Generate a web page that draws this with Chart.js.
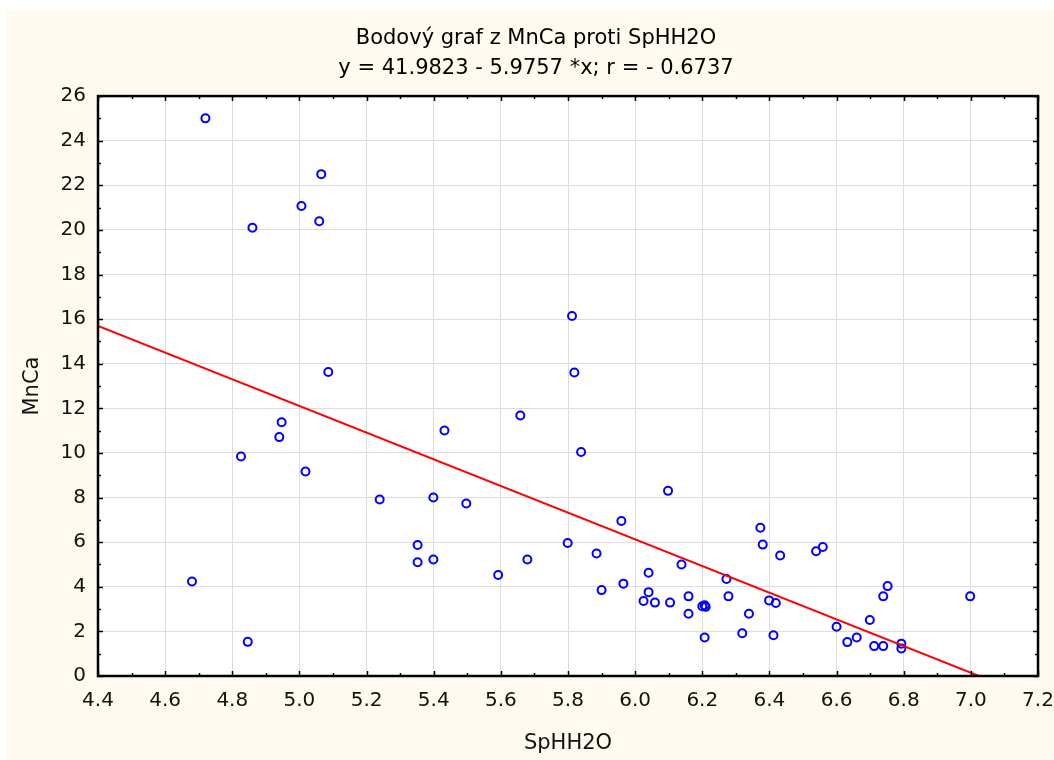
<!DOCTYPE html>
<html>
<head>
<meta charset="utf-8">
<title>Bodový graf z MnCa proti SpHH2O</title>
<script src="https://cdn.jsdelivr.net/npm/chart.js@4/dist/chart.umd.min.js"></script>
<style>
  html, body { margin: 0; padding: 0; background: #ffffff; }
  #wrap { width: 1054px; height: 760px; }
</style>
</head>
<body>
<div id="wrap"><canvas id="chart" width="1054" height="760"></canvas></div>
<script>
// SpHH2O (x) a MnCa (y)
const spHH2O = [
  4.68, 4.72, 4.826, 4.846, 4.86, 4.94, 4.947, 5.006, 5.018, 5.059, 5.065, 5.086,
  5.239, 5.352, 5.352, 5.399, 5.399, 5.432, 5.497, 5.592, 5.658, 5.679, 5.799,
  5.812, 5.819, 5.839, 5.885, 5.9, 5.959, 5.965, 6.025, 6.04, 6.04, 6.059, 6.098,
  6.104, 6.138, 6.159, 6.159, 6.2, 6.207, 6.21, 6.207, 6.272, 6.278, 6.319, 6.339,
  6.373, 6.38, 6.399, 6.412, 6.419, 6.432, 6.539, 6.559, 6.6, 6.632, 6.66, 6.699,
  6.712, 6.739, 6.739, 6.752, 6.793, 6.793, 6.998
];
const mnCa = [
  4.24, 25.0, 9.84, 1.53, 20.1, 10.71, 11.38, 21.07, 9.17, 20.39, 22.5, 13.63,
  7.91, 5.87, 5.1, 8.0, 5.22, 11.01, 7.73, 4.53, 11.68, 5.22, 5.96,
  16.14, 13.61, 10.04, 5.49, 3.85, 6.95, 4.14, 3.36, 4.63, 3.76, 3.29, 8.3,
  3.29, 5.0, 3.57, 2.79, 3.13, 3.17, 3.1, 1.73, 4.35, 3.57, 1.92, 2.79,
  6.65, 5.89, 3.39, 1.83, 3.27, 5.4, 5.59, 5.78, 2.21, 1.52, 1.73, 2.51,
  1.34, 1.34, 3.57, 4.03, 1.45, 1.23, 3.57
];

// regresní přímka y = 41.9823 - 5.9757*x (koncové body)
const fitX = [4.4, 7.2];
const fitY = [15.69, -1.05];

// popisky os
const xTicks = ["4.4", "4.6", "4.8", "5.0", "5.2", "5.4", "5.6", "5.8", "6.0", "6.2", "6.4", "6.6", "6.8", "7.0", "7.2"];
const yTicks = ["0", "2", "4", "6", "8", "10", "12", "14", "16", "18", "20", "22", "24", "26"];

const titleLines = ["Bodový graf z MnCa proti SpHH2O", "y = 41.9823 - 5.9757 *x; r = - 0.6737"];

const FONT = "'DejaVu Sans', 'Liberation Sans', Arial, sans-serif";

// pozadí: bílý okraj, krémová plocha, bílá oblast grafu
const backgroundPlugin = {
  id: "background",
  afterLayout(chart) {
    // titulek je v originále vystředěn mezi okrajem a pravou hranou
    chart.titleBlock.left = 18;
    chart.titleBlock.right = chart.width;
  },
  beforeDraw(chart) {
    const { ctx, chartArea: a } = chart;
    ctx.save();
    ctx.fillStyle = "#ffffff";
    ctx.fillRect(0, 0, chart.width, chart.height);
    ctx.fillStyle = "#fffaef";
    ctx.fillRect(7, 10, chart.width - 7, chart.height - 10);
    ctx.fillStyle = "#ffffff";
    ctx.fillRect(a.left, a.top, a.right - a.left, a.bottom - a.top);
    ctx.restore();
  }
};

// rámeček a vnitřní značky os
const framePlugin = {
  id: "frame",
  afterDraw(chart) {
    const { ctx, chartArea: a } = chart;
    const xs = chart.scales.x, ys = chart.scales.y;
    ctx.save();
    ctx.strokeStyle = "#000000";
    ctx.lineWidth = 1.5;
    ctx.beginPath();
    for (let i = 44; i <= 72; i++) {
      const px = Math.round(xs.getPixelForValue(i / 10)) + 0.5;
      const len = i % 2 === 0 ? 5 : 3;
      ctx.moveTo(px, a.bottom); ctx.lineTo(px, a.bottom - len);
      ctx.moveTo(px, a.top); ctx.lineTo(px, a.top + len);
    }
    for (let j = 0; j <= 26; j++) {
      const py = Math.round(ys.getPixelForValue(j)) + 0.5;
      const len = j % 2 === 0 ? 5 : 3;
      ctx.moveTo(a.left, py); ctx.lineTo(a.left + len, py);
      ctx.moveTo(a.right, py); ctx.lineTo(a.right - len, py);
    }
    ctx.stroke();
    ctx.lineWidth = 2.5;
    ctx.strokeRect(a.left, a.top, a.right - a.left, a.bottom - a.top);
    ctx.restore();
  }
};

function buildPoints(xv, yv) {
  return xv.map((x, i) => ({ x: x, y: yv[i] }));
}

new Chart(document.getElementById("chart"), {
  type: "scatter",
  data: {
    datasets: [
      {
        label: "Regrese",
        data: buildPoints(fitX, fitY),
        showLine: true,
        borderColor: "#ff0000",
        borderWidth: 2,
        pointRadius: 0,
        fill: false,
        order: 0
      },
      {
        label: "MnCa",
        data: buildPoints(spHH2O, mnCa),
        borderColor: "#0000ff",
        backgroundColor: "rgba(0,0,0,0)",
        pointRadius: 4,
        pointBorderWidth: 2,
        pointHoverRadius: 4,
        order: 1
      }
    ]
  },
  options: {
    responsive: false,
    animation: false,
    devicePixelRatio: 1,
    layout: { padding: { left: 0, right: 16, top: 0, bottom: 0 } },
    plugins: {
      legend: { display: false },
      tooltip: { enabled: false },
      title: {
        display: true,
        text: titleLines,
        color: "#000000",
        font: { family: FONT, size: 21, weight: "normal", lineHeight: 1.43 },
        padding: { top: 24, bottom: 12 }
      }
    },
    scales: {
      x: {
        type: "linear",
        min: 4.4,
        max: 7.2,
        afterFit(scale) {
          scale.height = 84;
          scale.paddingLeft = 0;
          scale.paddingRight = 0;
        },
        ticks: {
          stepSize: 0.2,
          callback: (v, i) => xTicks[i],
          color: "#111111",
          padding: 13,
          maxRotation: 0,
          autoSkip: false,
          font: { family: FONT, size: 20 }
        },
        grid: { color: "#dcdcdc", lineWidth: 1, drawTicks: false },
        border: { display: false },
        title: {
          display: true,
          text: "SpHH2O",
          color: "#111111",
          font: { family: FONT, size: 21 },
          padding: { top: 0, bottom: 4 }
        }
      },
      y: {
        type: "linear",
        min: 0,
        max: 26,
        afterFit(scale) {
          scale.width = 98;
          scale.paddingTop = 0;
          scale.paddingBottom = 0;
        },
        ticks: {
          stepSize: 2,
          callback: (v, i) => yTicks[i],
          color: "#111111",
          padding: 12,
          autoSkip: false,
          font: { family: FONT, size: 20 }
        },
        grid: { color: "#dcdcdc", lineWidth: 1, drawTicks: false },
        border: { display: false },
        title: {
          display: true,
          text: "MnCa",
          color: "#111111",
          font: { family: FONT, size: 21 },
          padding: { top: 20, bottom: 0 }
        }
      }
    }
  },
  plugins: [backgroundPlugin, framePlugin]
});
</script>
</body>
</html>
